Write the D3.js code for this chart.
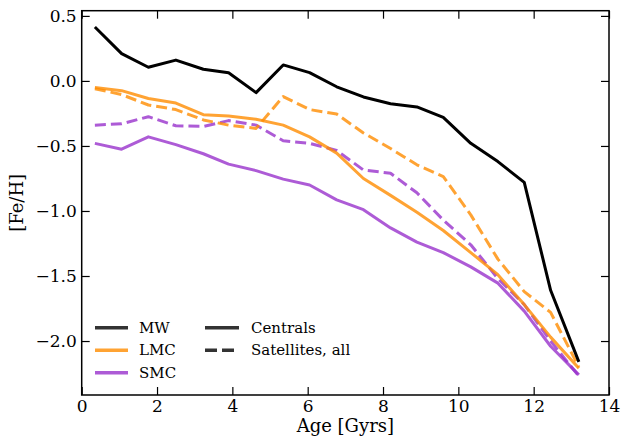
<!DOCTYPE html>
<html>
<head>
<meta charset="utf-8">
<script src="https://cdn.jsdelivr.net/npm/d3@7"></script>
<style>
  body { margin: 0; background: #fff; }
  svg, svg text { font-family: 'DejaVu Serif', serif; }
  .line { fill: none; stroke-width: 3; stroke-linejoin: round; }
</style>
</head>
<body>
<svg id="view"></svg>
<script>
// age bins (Gyr)
const ages = [0.35, 1.06, 1.77, 2.5, 3.23, 3.9, 4.63, 5.35, 6.05, 6.77, 7.48, 8.2, 8.9, 9.6, 10.33, 11.05, 11.75, 12.45, 13.2];

const mwCentral  = [0.415, 0.21, 0.105, 0.16, 0.09, 0.063, -0.09, 0.123, 0.064, -0.045, -0.123, -0.175, -0.2, -0.28, -0.48, -0.62, -0.78, -1.61, -2.16];
const lmcCentral = [-0.05, -0.075, -0.135, -0.17, -0.26, -0.27, -0.295, -0.34, -0.43, -0.555, -0.75, -0.88, -1.01, -1.15, -1.32, -1.49, -1.72, -1.97, -2.21];
const lmcSat     = [-0.06, -0.105, -0.185, -0.22, -0.30, -0.34, -0.365, -0.12, -0.22, -0.255, -0.40, -0.52, -0.645, -0.735, -1.03, -1.37, -1.62, -1.78, -2.2];
const smcCentral = [-0.48, -0.525, -0.43, -0.49, -0.56, -0.64, -0.69, -0.755, -0.80, -0.915, -0.99, -1.13, -1.24, -1.32, -1.43, -1.555, -1.77, -2.04, -2.26];
const smcSat     = [-0.34, -0.33, -0.275, -0.345, -0.35, -0.305, -0.34, -0.46, -0.48, -0.535, -0.685, -0.71, -0.86, -1.07, -1.26, -1.52, -1.72, -2.0, -2.27];

const xTicks = [0, 2, 4, 6, 8, 10, 12, 14];
const yTicks = [0.5, 0, -0.5, -1.0, -1.5, -2.0];

const galaxies = ['MW', 'LMC', 'SMC'];
const kinds = ['Centrals', 'Satellites, all'];

const W = 622, H = 444;
const margin = {top: 10.7, right: 13, bottom: 49, left: 81.7};
const width = W - margin.left - margin.right;
const height = H - margin.top - margin.bottom;
const serif = "'DejaVu Serif', serif";

const svg = d3.select('#view').attr('width', W).attr('height', H);
const g = svg.append('g').attr('transform', `translate(${margin.left},${margin.top})`);

const x = d3.scaleLinear().domain([0, 14]).range([0, width]);
const y = d3.scaleLinear().domain([-2.415, 0.54]).range([height, 0]);

const fmtY = d3.format('.1f');

// axes, ticks inward on all four sides
const tick = 8;
g.append('g').attr('transform', `translate(0,${height})`)
  .call(d3.axisBottom(x).tickValues(xTicks).tickSizeInner(-tick).tickSizeOuter(0).tickPadding(5).tickFormat(d3.format('d')));
g.append('g')
  .call(d3.axisTop(x).tickValues(xTicks).tickSizeInner(-tick).tickSizeOuter(0).tickFormat(''));
g.append('g')
  .call(d3.axisLeft(y).tickValues(yTicks).tickSizeInner(-tick).tickSizeOuter(0).tickPadding(5).tickFormat(fmtY));
g.append('g').attr('transform', `translate(${width},0)`)
  .call(d3.axisRight(y).tickValues(yTicks).tickSizeInner(-tick).tickSizeOuter(0).tickFormat(''));

g.selectAll('.domain').remove();
g.selectAll('g').attr('font-family', serif).attr('font-size', 17);
g.selectAll('.tick line').attr('stroke', '#000').attr('stroke-width', 1.2);
g.selectAll('.tick text').attr('fill', '#000');

g.append('rect').attr('width', width).attr('height', height)
  .attr('fill', 'none').attr('stroke', '#000').attr('stroke-width', 1.5);

// lines
const line = d3.line().x((d, i) => x(ages[i])).y(d => y(d));

const plotLine = function(values, color, opacity, dashed) {
  g.append('path')
    .datum(values)
    .attr('class', 'line')
    .attr('stroke', color)
    .attr('stroke-opacity', opacity)
    .attr('stroke-dasharray', dashed ? '11,5' : null)
    .attr('d', line);
};

plotLine(smcCentral, 'darkorchid', 0.8, false);
plotLine(smcSat, 'darkorchid', 0.8, true);
plotLine(lmcCentral, 'darkorange', 0.8, false);
plotLine(lmcSat, 'darkorange', 0.8, true);
plotLine(mwCentral, '#000', 1, false);

// legend
const legColors = {'MW': '#333', 'LMC': '#ffa333', 'SMC': '#ad5bd6'};
const leg = svg.append('g').attr('font-family', serif).attr('font-size', 15);
galaxies.forEach((name, i) => {
  const ly = 327.7 + i * 22.5;
  leg.append('line').attr('x1', 95).attr('x2', 128).attr('y1', ly).attr('y2', ly)
    .attr('stroke', legColors[name]).attr('stroke-width', 3.5);
  leg.append('text').attr('x', 139).attr('y', ly).attr('dy', '0.35em').text(name);
});
kinds.forEach((name, i) => {
  const ly = 327.7 + i * 22.5;
  leg.append('line').attr('x1', 205).attr('x2', 239).attr('y1', ly).attr('y2', ly)
    .attr('stroke', '#333').attr('stroke-width', 3.5)
    .attr('stroke-dasharray', i ? '12,5' : null);
  leg.append('text').attr('x', 251).attr('y', ly).attr('dy', '0.35em').text(name);
});

// axis labels
svg.append('text')
  .attr('x', margin.left + width / 2).attr('y', 432)
  .attr('text-anchor', 'middle').attr('font-family', serif).attr('font-size', 18)
  .text('Age [Gyrs]');

svg.append('text')
  .attr('transform', `translate(23,${margin.top + height / 2}) rotate(-90)`)
  .attr('text-anchor', 'middle').attr('font-family', serif).attr('font-size', 18)
  .text('[Fe/H]');
</script>
</body>
</html>
